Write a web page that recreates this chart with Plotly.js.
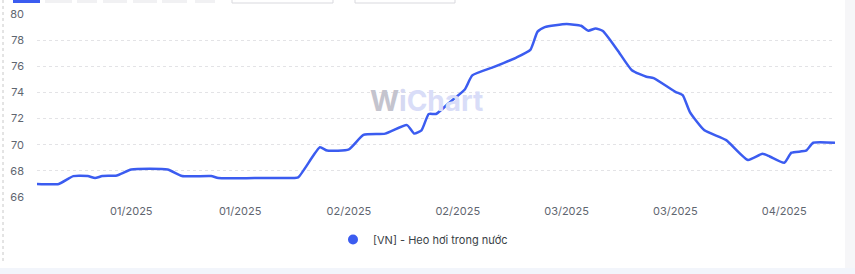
<!DOCTYPE html>
<html>
<head>
<meta charset="utf-8">
<script src="https://cdn.plot.ly/plotly-3.0.1.min.js"></script>
<style>html,body{margin:0;padding:0;background:#fff;}#chart{width:855px;height:274px;}</style>
</head>
<body>
<div id="chart"></div>
<script>
const seriesName = "[VN] - Heo hơi trong nước";
const dates = [
  "2024-12-23","2024-12-26","2024-12-28","2024-12-30","2024-12-31","2025-01-01","2025-01-03",
  "2025-01-05","2025-01-10","2025-01-12","2025-01-16","2025-01-17","2025-01-22","2025-01-27","2025-01-28","2025-01-31",
  "2025-02-01","2025-02-04","2025-02-06","2025-02-09","2025-02-12","2025-02-13","2025-02-14",
  "2025-02-15","2025-02-16","2025-02-18","2025-02-20","2025-02-21","2025-02-24","2025-02-27",
  "2025-03-01","2025-03-02","2025-03-03","2025-03-06","2025-03-08","2025-03-09","2025-03-10",
  "2025-03-11","2025-03-13","2025-03-15","2025-03-17","2025-03-18","2025-03-21","2025-03-22",
  "2025-03-23","2025-03-25","2025-03-28","2025-03-31","2025-04-02","2025-04-03","2025-04-05",
  "2025-04-06","2025-04-08","2025-04-09","2025-04-12"
];
const prices = [
  67.0, 67.0, 67.6, 67.6, 67.45, 67.6, 67.65,
  68.1, 68.1, 67.6, 67.6, 67.45, 67.45, 67.45, 67.5, 69.8,
  69.55, 69.65, 70.75, 70.85, 71.5, 70.85, 71.1,
  72.35, 72.35, 73.3, 74.25, 75.3, 75.95, 76.65,
  77.25, 78.65, 79.0, 79.23, 79.1, 78.72, 78.9,
  78.7, 77.25, 75.7, 75.2, 75.1, 74.05, 73.8,
  72.5, 71.1, 70.35, 68.83, 69.3, 69.1, 68.62,
  69.39, 69.54, 70.15, 70.15
];
const tickDates = ["2025-01-05","2025-01-20","2025-02-04","2025-02-19","2025-03-06","2025-03-21","2025-04-05"];
const tickLabels = ["01/2025","01/2025","02/2025","02/2025","03/2025","03/2025","04/2025"];
const yTicks = [66, 68, 70, 72, 74, 76, 78, 80];

const lineColor = "#3b5cf0";
const traces = [
  {
    x: dates, y: prices, type: "scatter", mode: "lines",
    line: {color: lineColor, width: 2.5, shape: "spline", smoothing: 0.5},
    showlegend: false, hoverinfo: "skip"
  },
  {
    x: [null], y: [null], type: "scatter", mode: "markers", name: seriesName,
    marker: {color: lineColor, size: 10, symbol: "circle"}
  }
];

const W = 855, H = 274, L = 37, R = 835, T = 14, B = 197;
const px = v => (v - L) / (R - L);
const py = v => (B - v) / (B - T);

const shapes = [
  {type: "line", xref: "paper", yref: "paper", x0: px(3), x1: px(3), y0: py(0), y1: py(262),
   line: {color: "#c8c8c8", width: 1, dash: "dot"}},
  {type: "rect", xref: "paper", yref: "paper", x0: px(0), x1: px(855), y0: py(268), y1: py(274),
   fillcolor: "#f2f5fb", line: {width: 0}},
  {type: "rect", xref: "paper", yref: "paper", x0: px(845), x1: px(855), y0: py(0), y1: py(268),
   fillcolor: "#f6f6f8", line: {width: 0}},
  {type: "rect", xref: "paper", yref: "paper", x0: px(13), x1: px(40), y0: py(-4), y1: py(3),
   fillcolor: lineColor, line: {width: 0}},
  {type: "rect", xref: "paper", yref: "paper", x0: px(45), x1: px(72), y0: py(-4), y1: py(3),
   fillcolor: "#f1f1f3", line: {width: 0}},
  {type: "rect", xref: "paper", yref: "paper", x0: px(77), x1: px(97), y0: py(-4), y1: py(3),
   fillcolor: "#f1f1f3", line: {width: 0}},
  {type: "rect", xref: "paper", yref: "paper", x0: px(103), x1: px(127), y0: py(-4), y1: py(3),
   fillcolor: "#f1f1f3", line: {width: 0}},
  {type: "rect", xref: "paper", yref: "paper", x0: px(133), x1: px(157), y0: py(-4), y1: py(3),
   fillcolor: "#f1f1f3", line: {width: 0}},
  {type: "rect", xref: "paper", yref: "paper", x0: px(162), x1: px(187), y0: py(-4), y1: py(3),
   fillcolor: "#f1f1f3", line: {width: 0}},
  {type: "rect", xref: "paper", yref: "paper", x0: px(195), x1: px(215), y0: py(-4), y1: py(3),
   fillcolor: "#f1f1f3", line: {width: 0}},
  {type: "rect", xref: "paper", yref: "paper", x0: px(232), x1: px(333), y0: py(-4), y1: py(3),
   fillcolor: "#ffffff", line: {color: "#d9d9de", width: 1}},
  {type: "rect", xref: "paper", yref: "paper", x0: px(355), x1: px(455), y0: py(-4), y1: py(3),
   fillcolor: "#ffffff", line: {color: "#d9d9de", width: 1}}
];

const layout = {
  width: W, height: H,
  margin: {l: L, r: W - R, t: T, b: H - B, pad: 0},
  paper_bgcolor: "#ffffff", plot_bgcolor: "#ffffff",
  font: {family: "Inter, 'Noto Sans', sans-serif", size: 11, color: "#5f6670"},
  xaxis: {
    type: "date", range: [dates[0], dates[dates.length - 1]],
    tickmode: "array", tickvals: tickDates, ticktext: tickLabels,
    showgrid: false, zeroline: false, showline: false, ticks: "",
    ticklabelstandoff: 6, tickfont: {size: 11, color: "#5f6670"}
  },
  yaxis: {
    range: [66, 80], tickmode: "array", tickvals: yTicks,
    showgrid: true, gridcolor: "#e3e3e6", griddash: "dot", gridwidth: 1,
    zeroline: false, showline: false, ticks: "",
    ticklabelstandoff: 12, tickfont: {size: 11, color: "#5f6670"}
  },
  showlegend: true,
  legend: {
    orientation: "h", x: px(423), xanchor: "center", y: py(225), yanchor: "top",
    font: {size: 11, color: "#3a3f47"}, itemwidth: 30
  },
  shapes: shapes,
  annotations: [{
    xref: "paper", yref: "paper", x: px(426), y: py(101), xanchor: "center", yanchor: "middle",
    showarrow: false,
    text: "<b><span style='color:#c4c4ce'>W</span><span style='color:#d6d9f2'>i</span><span style='color:#d9ddf8'>Chart</span></b>",
    font: {family: "Inter, sans-serif", size: 28}
  }]
};

Plotly.newPlot("chart", traces, layout, {displayModeBar: false, staticPlot: true});
</script>
</body>
</html>
